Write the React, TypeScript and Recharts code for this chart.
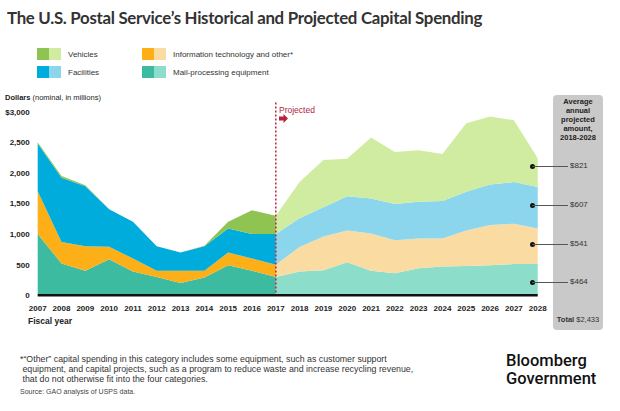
import React from 'react';
import { AreaChart, Area, XAxis, YAxis, ReferenceLine } from 'recharts';

// fiscal years, 2007-2028
const years = ['2007', '2008', '2009', '2010', '2011', '2012', '2013', '2014', '2015', '2016', '2017',
  '2018', '2019', '2020', '2021', '2022', '2023', '2024', '2025', '2026', '2027', '2028'];

// historical, 2007-2017 (millions)
const mailHist = [1000, 520, 400, 590, 390, 300, 200, 290, 490, 400, 300];
const itHist = [700, 350, 400, 205, 210, 100, 200, 110, 210, 200, 200];
const facHist = [780, 1050, 980, 610, 600, 400, 300, 400, 390, 400, 500];
const vehHist = [20, 30, 20, 0, 0, 0, 0, 10, 110, 390, 300];

// projected, 2017-2028
const mailProj = [300, 390, 410, 540, 400, 360, 440, 470, 480, 490, 510, 510];
const itProj = [200, 400, 550, 520, 610, 540, 490, 460, 580, 660, 660, 580];
const facProj = [500, 470, 480, 560, 570, 590, 600, 610, 630, 660, 680, 680];
const vehProj = [300, 590, 770, 610, 1000, 850, 840, 770, 1120, 1110, 1010, 470];

const yTicks = [0, 500, 1000, 1500, 2000, 2500, 3000];

const averages = ['$821', '$607', '$541', '$464'];
const avgY = [166, 205, 244, 282];

const HIST_END = 10;

const data = years.map((year, i) => ({
  year,
  mailH: i <= HIST_END ? mailHist[i] : null,
  itH: i <= HIST_END ? itHist[i] : null,
  facH: i <= HIST_END ? facHist[i] : null,
  vehH: i <= HIST_END ? vehHist[i] : null,
  mailP: i >= HIST_END ? mailProj[i - HIST_END] : null,
  itP: i >= HIST_END ? itProj[i - HIST_END] : null,
  facP: i >= HIST_END ? facProj[i - HIST_END] : null,
  vehP: i >= HIST_END ? vehProj[i - HIST_END] : null,
}));

const colors = {
  vehDark: '#8fc453', vehLight: '#cfeca0',
  facDark: '#00acdb', facLight: '#8bd6ed',
  itDark: '#fcaf17', itLight: '#fadca2',
  mailDark: '#3dbba1', mailLight: '#8cdecb',
};

const font = '"Liberation Sans", Arial, sans-serif';

const abs = (left: number, top: number, extra: React.CSSProperties = {}): React.CSSProperties => ({
  position: 'absolute', left, top, whiteSpace: 'nowrap', ...extra,
});

function LegendItem({ x, y, dark, light, label }: { x: number; y: number; dark: string; light: string; label: string }) {
  return (
    <div style={abs(x, y, { display: 'flex', alignItems: 'center' })}>
      <div style={{ width: 12, height: 12, background: dark }} />
      <div style={{ width: 12, height: 12, background: light }} />
      <span style={{ fontSize: 8, color: '#333', marginLeft: 7 }}>{label}</span>
    </div>
  );
}

export default function App() {
  return (
    <div style={{ position: 'absolute', left: 0, top: 0, width: 620, height: 411, background: '#fff', fontFamily: font, overflow: 'hidden' }}>
      <div style={abs(7, 7, { fontSize: 17, fontFamily: 'Lato, sans-serif', fontWeight: 700, color: '#333', letterSpacing: -0.3, transformOrigin: 'left', transform: 'scaleX(0.99)' })}>
        The U.S. Postal Service’s Historical and Projected Capital Spending
      </div>

      <LegendItem x={37} y={48} dark={colors.vehDark} light={colors.vehLight} label="Vehicles" />
      <LegendItem x={37} y={66} dark={colors.facDark} light={colors.facLight} label="Facilities" />
      <LegendItem x={142} y={48} dark={colors.itDark} light={colors.itLight} label="Information technology and other*" />
      <LegendItem x={142} y={66} dark={colors.mailDark} light={colors.mailLight} label="Mail-processing equipment" />

      <div style={abs(5, 93, { fontSize: 7.5, color: '#222' })}>
        <b>Dollars</b> (nominal, in millions)
      </div>

      {/* right panel */}
      <div style={abs(553, 95, { width: 50, height: 235, background: '#c9c9c9', borderRadius: 4 })} />
      <div style={abs(553, 97, { width: 50, textAlign: 'center', fontSize: 7.5, fontWeight: 'bold', lineHeight: '9px', color: '#222', whiteSpace: 'normal' })}>
        Average<br />annual<br />projected<br />amount,<br />2018-2028
      </div>

      <div style={{ position: 'absolute', left: 0, top: 0 }}>
        <AreaChart width={620} height={411} data={data} margin={{ top: 111.7, right: 82.3, bottom: 85.7, left: 0 }}>
          <XAxis
            dataKey="year"
            interval={0}
            tickLine={false}
            axisLine={{ stroke: '#111', strokeWidth: 2.5 }}
            tick={{ fontSize: 8, fontWeight: 'bold', fill: '#222', fontFamily: font }}
            tickMargin={4}
            height={30}
          />
          <YAxis
            domain={[0, 3000]}
            ticks={yTicks}
            width={37.7}
            axisLine={false}
            tickLine={false}
            tick={{ fontSize: 8, fontWeight: 'bold', fill: '#222', fontFamily: font }}
            tickFormatter={(v: number) => (v === 3000 ? '$3,000' : v.toLocaleString('en-US'))}
          />
          <Area dataKey="mailH" stackId="h" stroke="none" fill={colors.mailDark} fillOpacity={1} isAnimationActive={false} type="linear" />
          <Area dataKey="itH" stackId="h" stroke="none" fill={colors.itDark} fillOpacity={1} isAnimationActive={false} type="linear" />
          <Area dataKey="facH" stackId="h" stroke="none" fill={colors.facDark} fillOpacity={1} isAnimationActive={false} type="linear" />
          <Area dataKey="vehH" stackId="h" stroke="none" fill={colors.vehDark} fillOpacity={1} isAnimationActive={false} type="linear" />
          <Area dataKey="mailP" stackId="p" stroke="none" fill={colors.mailLight} fillOpacity={1} isAnimationActive={false} type="linear" />
          <Area dataKey="itP" stackId="p" stroke="none" fill={colors.itLight} fillOpacity={1} isAnimationActive={false} type="linear" />
          <Area dataKey="facP" stackId="p" stroke="none" fill={colors.facLight} fillOpacity={1} isAnimationActive={false} type="linear" />
          <Area dataKey="vehP" stackId="p" stroke="none" fill={colors.vehLight} fillOpacity={1} isAnimationActive={false} type="linear" />
          <ReferenceLine
            segment={[{ x: '2017', y: 3150 }, { x: '2017', y: 0 }]}
            ifOverflow="visible"
            stroke="#b3263f"
            strokeWidth={1.5}
            strokeDasharray="2 2"
          />
        </AreaChart>
      </div>

      <div style={abs(279, 105, { fontSize: 8.5, color: '#b3263f' })}>Projected</div>
      <svg style={abs(279, 114)} width={10} height={9}>
        <polygon points="0,2.5 4.5,2.5 4.5,0 9,4.5 4.5,9 4.5,6.5 0,6.5" fill="#b3263f" />
      </svg>

      {averages.map((a, i) => (
        <React.Fragment key={a}>
          <div style={abs(529.5, avgY[i] - 2.5, { width: 5, height: 5, borderRadius: 3, background: '#111' })} />
          <div style={abs(532, avgY[i] - 0.5, { width: 36, height: 1, background: '#555' })} />
          <div style={abs(570, avgY[i] - 5, { fontSize: 8, color: '#333' })}>{a}</div>
        </React.Fragment>
      ))}

      <div style={abs(553, 315, { width: 50, textAlign: 'center', fontSize: 7.5, color: '#333' })}>
        <b>Total</b> $2,433
      </div>

      <div style={abs(28, 316, { fontSize: 8.5, fontWeight: 'bold', color: '#222' })}>Fiscal year</div>

      <div style={abs(20, 354, { fontSize: 8.8, color: '#333', lineHeight: '10px' })}>
        *“Other” capital spending in this category includes some equipment, such as customer support<br />
        &nbsp;equipment, and capital projects, such as a program to reduce waste and increase recycling revenue,<br />
        &nbsp;that do not otherwise fit into the four categories.
      </div>
      <div style={abs(20, 388, { fontSize: 7, color: '#444' })}>Source: GAO analysis of USPS data.</div>

      <div style={abs(506, 353, { fontSize: 16.5, fontFamily: 'Roboto, sans-serif', fontWeight: 500, color: '#111', lineHeight: '16px' })}>
        Bloomberg
      </div>
      <div style={abs(506, 371, { fontSize: 16.5, fontFamily: 'Roboto, sans-serif', fontWeight: 500, color: '#111', lineHeight: '16px' })}>
        Government
      </div>
    </div>
  );
}
